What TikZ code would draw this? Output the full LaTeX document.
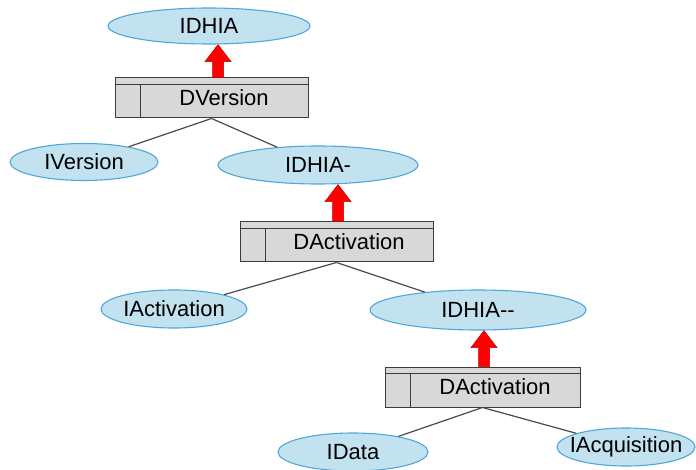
\documentclass[tikz,border=0pt]{standalone}
\usepackage{fontspec}
\setmainfont{Liberation Sans}
\usetikzlibrary{shapes.geometric,calc}
\definecolor{ellfill}{HTML}{C3E2F0}
\definecolor{elldraw}{HTML}{4FA8D8}
\definecolor{boxfill}{HTML}{D8D8D8}
\definecolor{boxdraw}{HTML}{3C3C3C}
\definecolor{linkcol}{HTML}{4A4A4A}
\definecolor{arrowred}{HTML}{FF0000}
\tikzset{
  iface/.style={ellipse, draw=elldraw, fill=ellfill, line width=1.1pt, inner sep=0pt,
                font=\fontsize{22}{24}\selectfont},
  dbox/.style={rectangle, draw=boxdraw, fill=boxfill, line width=1pt, inner sep=0pt,
               minimum width=193pt, minimum height=40pt, font=\fontsize{22}{24}\selectfont,
               path picture={
                 \draw[boxdraw, line width=0.8pt]
                   ([yshift=-6pt]path picture bounding box.north west) --
                   ([yshift=-6pt]path picture bounding box.north east);
                 \draw[boxdraw, line width=0.8pt]
                   ([xshift=25pt,yshift=-6pt]path picture bounding box.north west) --
                   ([xshift=25pt]path picture bounding box.south west);
               }},
  link/.style={draw=linkcol, line width=1.2pt},
  blockarrow/.style={fill=arrowred, draw=arrowred!75!black, line width=0.5pt}
}
% label of fixed-size ellipses: no width of its own, so the ellipse keeps its size
\newcommand\lbl[1]{\makebox[0pt]{#1}}
% filled block arrow from the top of node #1 up to the bottom of node #2, shifted by #3
\newcommand\liftarrow[3]{%
  \path[blockarrow] let \p1=($(#1.north)+(#3,0)$), \p2=(#2.south) in
    (\x1-5.5pt,\y1) -- (\x1-5.5pt,\y2-17pt) -- (\x1-13pt,\y2-17pt) -- (\x1,\y2)
    -- (\x1+13pt,\y2-17pt) -- (\x1+5.5pt,\y2-17pt) -- (\x1+5.5pt,\y1) -- cycle;}
\begin{document}
\begin{tikzpicture}[x=1pt,y=1pt]
\useasboundingbox (0,0) rectangle (696,469);

\node[iface, minimum width=202pt, minimum height=36pt] (idhia) at (209,443) {\lbl{IDHIA}};
\node[dbox] (dversion) at (211.5,371) {\hspace*{25pt}DVersion};
\node[iface, minimum width=148pt, minimum height=37pt] (iversion) at (84,307) {\lbl{IVersion}};
\node[iface, minimum width=200pt, minimum height=38pt] (idhia1) at (318,304) {\lbl{IDHIA-}};

\node[dbox] (dact1) at (336.5,227) {\hspace*{25pt}DActivation};
\node[iface, minimum width=146pt, minimum height=38pt] (iact) at (174,160) {\lbl{IActivation}};
\node[iface, minimum width=216pt, minimum height=40pt] (idhia2) at (478,159) {\lbl{IDHIA{-}{-}}};

\node[dbox, minimum width=195pt] (dact2) at (482.5,82) {\hspace*{25pt}DActivation};
\node[iface, minimum width=150pt, minimum height=38pt] (idata) at (353,17) {\lbl{IData}};
\node[iface, minimum width=138pt, minimum height=38pt] (iacq) at (626,22) {\lbl{IAcquisition}};

\path[link] (dversion.south) -- (iversion);
\path[link] (dversion.south) -- (idhia1);
\path[link] (dact1.south) -- (iact);
\path[link] (dact1.south) -- (idhia2);
\path[link] (dact2.south) -- (idata);
\path[link] (dact2.south) -- (iacq);

\liftarrow{dversion}{idhia}{6.5pt}
\liftarrow{dact1}{idhia1}{1.5pt}
\liftarrow{dact2}{idhia2}{1.5pt}
\end{tikzpicture}
\end{document}
